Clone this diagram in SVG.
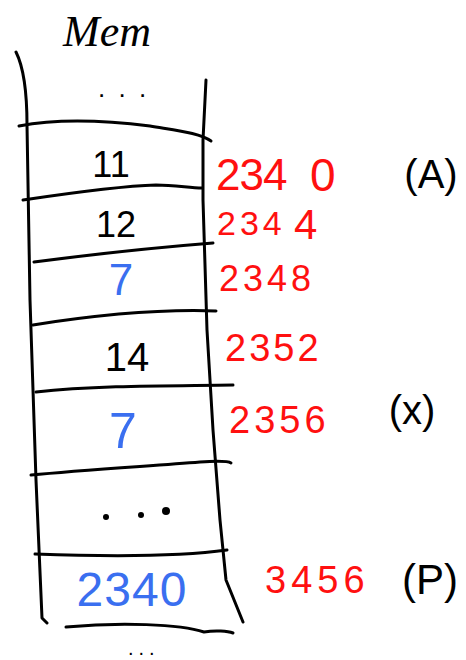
<svg xmlns="http://www.w3.org/2000/svg" width="466" height="660" viewBox="0 0 466 660">
<style>
.ln{fill:none;stroke:#000;stroke-width:3;stroke-linecap:round;stroke-linejoin:round}
.t{font-family:"Liberation Sans",Arial,sans-serif}
.k{fill:#000}
.r{fill:#ff1010}
.b{fill:#3a6ff0}
</style>
<rect width="466" height="660" fill="#fff"/>
<text x="107" y="46" font-size="44" font-style="italic" text-anchor="middle" style="font-family:'Liberation Serif',serif">Mem</text>
<!-- frame -->
<path class="ln" d="M16,52 C24,68 27,90 27,125 L30,300 L36,480 L42,618 L47,623"/>
<path class="ln" d="M206,80 L203,140 L203,200 L207,330 L213,430 L220,520 L226,580 L243,622"/>
<!-- row separators -->
<path class="ln" d="M19,126 C60,118 110,121 150,126 C180,131 200,133 211,141"/>
<path class="ln" d="M23,200 C70,193 120,186 156,185 C175,185 190,188 202,188"/>
<path class="ln" d="M34,262 C80,256 150,248 213,243"/>
<path class="ln" d="M33,325 C90,316 160,309 216,311"/>
<path class="ln" d="M36,392 C100,385 180,386 233,385"/>
<path class="ln" d="M31,475 C80,470 150,466 200,462 C215,461 228,461 231,463"/>
<path class="ln" d="M35,554 C90,556 170,558 227,550"/>
<path class="ln" d="M66,627 C120,622 180,624 204,632 C215,630 228,631 233,633"/>
<!-- cell contents -->
<text class="t k" x="98" y="97" font-size="26" letter-spacing="3">. . .</text>
<text class="t k" x="111" y="177" font-size="36" text-anchor="middle">11</text>
<text class="t k" x="116" y="237" font-size="36" text-anchor="middle">12</text>
<text class="t b" x="121" y="295" font-size="44" text-anchor="middle">7</text>
<text class="t k" x="127" y="371" font-size="40" text-anchor="middle">14</text>
<text class="t b" x="123" y="448" font-size="50" text-anchor="middle">7</text>
<circle cx="106" cy="517" r="3"/>
<circle cx="141" cy="515" r="3"/>
<circle cx="166" cy="511" r="4"/>
<text class="t b" x="132" y="606" font-size="48" text-anchor="middle" letter-spacing="1">2340</text>
<text class="t k" x="128" y="655" font-size="20" letter-spacing="5">...</text>
<!-- addresses -->
<text class="t r" x="216" y="190" font-size="44" letter-spacing="-1">234</text>
<text class="t r" x="310" y="191" font-size="46">0</text>
<text class="t r" x="217" y="235" font-size="34" letter-spacing="4">234</text>
<text class="t r" x="294" y="239" font-size="42">4</text>
<text class="t r" x="219" y="291" font-size="36" letter-spacing="4">2348</text>
<text class="t r" x="225" y="361" font-size="38" letter-spacing="3">2352</text>
<text class="t r" x="229" y="433" font-size="38" letter-spacing="4">2356</text>
<text class="t r" x="265" y="593" font-size="38" letter-spacing="5">3456</text>
<!-- variable names -->
<text class="t k" x="431" y="188" font-size="40" text-anchor="middle">(A)</text>
<text class="t k" x="412" y="424" font-size="40" text-anchor="middle">(x)</text>
<text class="t k" x="430" y="594" font-size="42" text-anchor="middle">(P)</text>
</svg>
